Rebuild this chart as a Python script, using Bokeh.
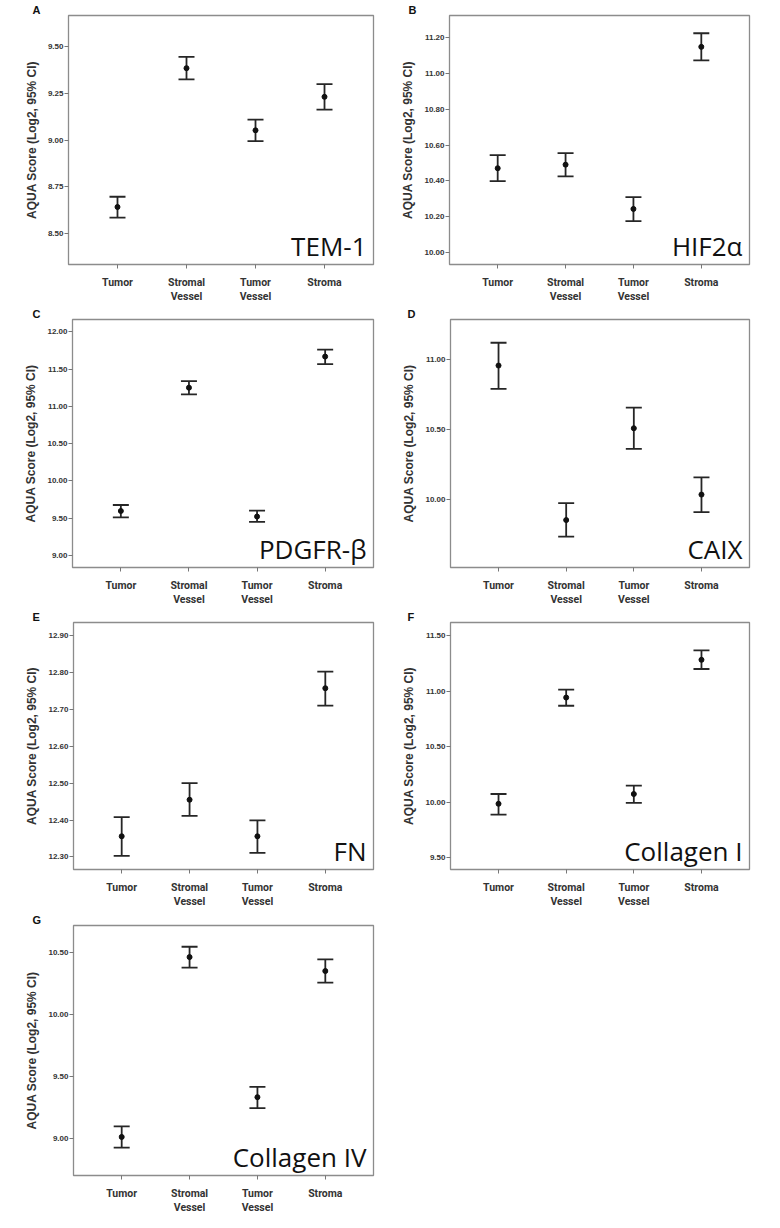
from bokeh.plotting import figure
from bokeh.models import (FactorRange, Range1d, FixedTicker, Whisker, TeeHead,
                          ColumnDataSource, Label, NumeralTickFormatter)
from bokeh.layouts import column, row
from bokeh.embed import file_html
from bokeh.resources import INLINE

categories = ["Tumor", "Stromal\nVessel", "Tumor\nVessel", "Stroma"]

# A  TEM-1
tem1_mean = [8.640, 9.386, 9.052, 9.232]
tem1_lo = [8.583, 9.326, 8.994, 9.163]
tem1_hi = [8.695, 9.447, 9.109, 9.300]
tem1_ticks = [8.50, 8.75, 9.00, 9.25, 9.50]

# B  HIF2a
hif_mean = [10.471, 10.491, 10.244, 11.148]
hif_lo = [10.399, 10.426, 10.176, 11.073]
hif_hi = [10.544, 10.555, 10.310, 11.224]
hif_ticks = [10.00, 10.20, 10.40, 10.60, 10.80, 11.00, 11.20]

# C  PDGFR-b
pdg_mean = [9.598, 11.251, 9.523, 11.668]
pdg_lo = [9.513, 11.162, 9.452, 11.566]
pdg_hi = [9.678, 11.340, 9.602, 11.761]
pdg_ticks = [9.00, 9.50, 10.00, 10.50, 11.00, 11.50, 12.00]

# D  CAIX
caix_mean = [10.960, 9.856, 10.512, 10.038]
caix_lo = [10.794, 9.737, 10.365, 9.913]
caix_hi = [11.123, 9.977, 10.659, 10.161]
caix_ticks = [10.00, 10.50, 11.00]

# E  FN
fn_mean = [12.356, 12.455, 12.356, 12.757]
fn_lo = [12.303, 12.411, 12.311, 12.710]
fn_hi = [12.408, 12.500, 12.399, 12.802]
fn_ticks = [12.30, 12.40, 12.50, 12.60, 12.70, 12.80, 12.90]

# F  Collagen I
col1_mean = [9.988, 10.945, 10.076, 11.285]
col1_lo = [9.890, 10.871, 9.996, 11.202]
col1_hi = [10.076, 11.016, 10.152, 11.370]
col1_ticks = [9.50, 10.00, 10.50, 11.00, 11.50]

# G  Collagen IV
col4_mean = [9.014, 10.460, 9.334, 10.348]
col4_lo = [8.928, 10.375, 9.246, 10.254]
col4_hi = [9.099, 10.543, 9.417, 10.441]
col4_ticks = [9.00, 9.50, 10.00, 10.50]

INK = "#262626"
PAD = 0.105


def make_panel(letter, name, mean, lo, hi, ticks, yr, w, h, bl, br, bt, bb, ldx):
    p = figure(x_range=FactorRange(factors=categories, range_padding=PAD,
                                   range_padding_units="percent"),
               y_range=Range1d(*yr), width=w, height=h,
               output_backend="svg", toolbar_location=None,
               min_border_left=bl, min_border_right=br,
               min_border_top=bt, min_border_bottom=bb)
    p.xgrid.visible = False
    p.ygrid.visible = False
    p.background_fill_color = "white"
    p.border_fill_color = "white"
    p.outline_line_color = "#8c8c8c"
    p.outline_line_width = 1.3

    p.title.text = letter
    p.title.align = "left"
    p.title.offset = ldx
    p.title.standoff = 0
    p.title.text_font = "Liberation Sans"
    p.title.text_font_style = "bold"
    p.title.text_font_size = "11px"
    p.title.text_line_height = 1.0
    p.title.text_color = "#111111"

    src = ColumnDataSource(dict(x=categories, m=mean, lo=lo, hi=hi))
    wk = Whisker(source=src, base="x", upper="hi", lower="lo",
                 line_color=INK, line_width=1.8,
                 upper_head=TeeHead(size=16, line_color=INK, line_width=1.8),
                 lower_head=TeeHead(size=16, line_color=INK, line_width=1.8))
    p.add_layout(wk)
    p.scatter("x", "m", source=src, size=5, color="#111111")

    ya = p.yaxis[0]
    ya.ticker = FixedTicker(ticks=ticks)
    ya.formatter = NumeralTickFormatter(format="0.00")
    ya.axis_line_color = None
    ya.major_tick_in = 0
    ya.major_tick_out = 4
    ya.minor_tick_in = 0
    ya.minor_tick_out = 0
    ya.major_tick_line_color = "#777777"
    ya.major_label_text_font = "Liberation Sans"
    ya.major_label_text_font_style = "bold"
    ya.major_label_text_font_size = "8px"
    ya.major_label_text_color = "#333333"
    ya.major_label_standoff = 1
    ya.axis_label = "AQUA Score (Log2, 95% CI)"
    ya.axis_label_text_font = "Liberation Sans"
    ya.axis_label_text_font_style = "bold"
    ya.axis_label_text_font_size = "12px"
    ya.axis_label_text_color = "#333333"
    ya.axis_label_standoff = 6

    xa = p.xaxis[0]
    xa.axis_line_color = None
    xa.major_tick_in = 0
    xa.major_tick_out = 4
    xa.major_tick_line_color = "#777777"
    xa.major_label_text_font = "Roboto"
    xa.major_label_text_font_style = "bold"
    xa.major_label_text_font_size = "10.5px"
    xa.major_label_text_color = "#333333"
    xa.major_label_standoff = 7
    xa.major_label_text_line_height = 1.1

    fw = w - bl - br
    fh = h - bt - bb
    x0 = -len(categories) * PAD / 2
    x1 = len(categories) * (1 + PAD / 2)
    ppx = fw / (x1 - x0)
    ppy = fh / (yr[1] - yr[0])

    p.add_layout(Label(x=x1 - 7 / ppx, y=yr[0] + 1 / ppy, text=name,
                       text_align="right", text_baseline="bottom",
                       text_font="Open Sans", text_font_size="26px",
                       text_color="#111111"))
    return p


pa = make_panel("A", "TEM-1", tem1_mean, tem1_lo, tem1_hi, tem1_ticks,
                (8.331, 9.669), 393, 305, 68, 20, 15, 39, -36)
pb = make_panel("B", "HIF2α", hif_mean, hif_lo, hif_hi, hif_ticks,
                (9.934, 11.323), 387, 305, 56, 31, 15, 39, -41)
pc = make_panel("C", "PDGFR-β", pdg_mean, pdg_lo, pdg_hi, pdg_ticks,
                (8.84, 12.165), 393, 303, 72, 20, 14, 39, -40)
pd_ = make_panel("D", "CAIX", caix_mean, caix_lo, caix_hi, caix_ticks,
                 (9.517, 11.289), 387, 303, 57, 31, 14, 39, -43)
pe = make_panel("E", "FN", fn_mean, fn_lo, fn_hi, fn_ticks,
                (12.266, 12.935), 393, 302, 73, 20, 14, 39, -41)
pf = make_panel("F", "Collagen I", col1_mean, col1_lo, col1_hi, col1_ticks,
                (9.396, 11.621), 387, 302, 57, 31, 14, 39, -43)
pg = make_panel("G", "Collagen IV", col4_mean, col4_lo, col4_hi, col4_ticks,
                (8.704, 10.714), 393, 306, 73, 20, 15, 40, -41)

layout = column(row(pa, pb), row(pc, pd_), row(pe, pf), row(pg))

with open("out.html", "w") as f:
    f.write(file_html(layout, INLINE))
